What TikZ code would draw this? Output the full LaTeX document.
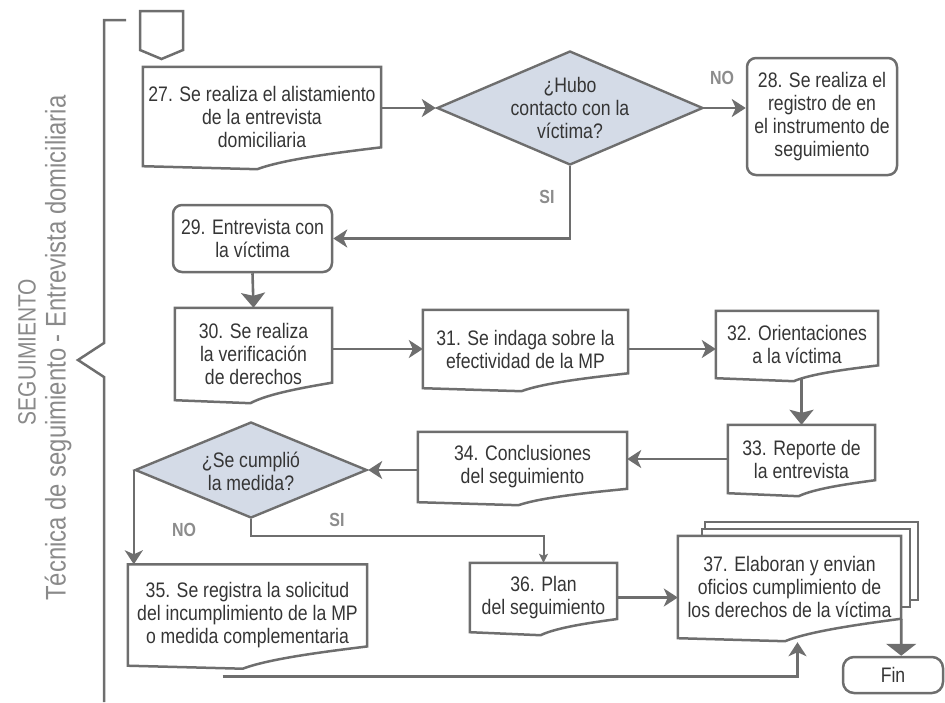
\documentclass[tikz,border=0pt]{standalone}
\usepackage{fontspec}
\setmainfont[FakeStretch=0.84]{Liberation Sans}
\usepackage{tikz}
\usetikzlibrary{arrows.meta,shapes.geometric,calc}

\definecolor{linegray}{HTML}{6E6E6E}
\definecolor{txtgray}{HTML}{353535}
\definecolor{lblgray}{HTML}{8C8C8C}
\definecolor{sidegray}{HTML}{8A8A8A}
\definecolor{diafill}{HTML}{D4DBE7}
\newcommand{\boxfont}{\fontsize{21}{23}\selectfont}

\begin{document}
\begin{tikzpicture}[x=1pt, y=-1pt,
  every node/.style={text=txtgray, font=\boxfont, align=center},
  boxline/.style={draw=linegray, line width=2.5pt, line join=miter},
  doc/.style={rectangle, inner sep=2pt,
    append after command={\pgfextra{
      \draw[boxline] (\tikzlastnode.north west) -- (\tikzlastnode.north east)
        -- ($(\tikzlastnode.south east)!0.19!(\tikzlastnode.north east)$)
        .. controls ($(\tikzlastnode.south west)!0.8!(\tikzlastnode.south east)!0.14!(\tikzlastnode.north east)$)
        and ($(\tikzlastnode.south west)!0.56!(\tikzlastnode.south east)!0.07!(\tikzlastnode.north east)$)
        .. ($(\tikzlastnode.south west)!0.48!(\tikzlastnode.south east)+(0,3)$)
        -- (\tikzlastnode.south west) -- cycle;}}},
  roundbox/.style={rectangle, rounded corners=9pt, draw=linegray, line width=2.5pt, inner sep=2pt},
  decision/.style={diamond, draw=linegray, fill=diafill, line width=2.4pt,
    minimum width=266pt, minimum height=114pt, inner sep=0pt},
  yesno/.style={text=lblgray, font=\bfseries\fontsize{19}{19}\selectfont},
  side/.style={rotate=90, text=sidegray, font=\fontsize{28.4}{29}\selectfont},
  arr/.style={draw=linegray, line width=2.6pt, -{Stealth[length=14pt, width=18pt, inset=4pt]}},
  arrwide/.style={arr, -{Stealth[length=15pt, width=24pt, inset=3pt]}},
  arrsmall/.style={arr, line width=2pt, -{Stealth[length=9pt, width=9pt, inset=2pt]}},
  arrfin/.style={arr, -{Triangle[length=12pt, width=30pt]}}]
\useasboundingbox (0,0) rectangle (945,702);

% brace and side titles
\draw[boxline] (126,20) -- (104,20) -- (104,343) -- (78,360) -- (104,377) -- (104,702);
\node[side, font=\fontsize{25}{26}\selectfont] (seg) at (27,352) {SEGUIMIENTO};
\node[side] (tec) at (58,348) {Técnica de seguimiento - Entrevista domiciliaria};

% off-page connector
\draw[boxline] (140,11) -- (183,11) -- (183,50) -- (161.5,59) -- (140,50) -- cycle;

% first row
\node[doc, minimum width=238pt, minimum height=99pt] (b27) at (262,116.5) {27. Se realiza el alistamiento\\de la entrevista\\domiciliaria};
\node[decision] (d1) at (570,108) {};
\node (d1t) at (570,108) {¿Hubo\\contacto con la\\víctima?};
\node[roundbox, minimum width=150pt, minimum height=117pt] (b28) at (822,116.5) {28. Se realiza el\\registro de en\\el instrumento de\\seguimiento};
\node[yesno] (no1) at (722,78) {NO};
\node[yesno] (si1) at (547,197) {SI};

% interview
\node[roundbox, minimum width=159pt, minimum height=67pt] (b29) at (252.5,238.5) {29. Entrevista con\\la víctima};
\node[doc, minimum width=157pt, minimum height=92pt] (b30) at (253.5,354) {30. Se realiza\\la verificación\\de derechos};
\node[doc, minimum width=205pt, minimum height=78pt] (b31) at (525.5,349) {31. Se indaga sobre la\\efectividad de la MP};
\node[doc, minimum width=162pt, minimum height=67pt] (b32) at (797,344.5) {32. Orientaciones\\a la víctima};
\node[doc, minimum width=147pt, minimum height=68pt] (b33) at (801.5,459) {33. Reporte de\\la entrevista};
\node[doc, minimum width=209pt, minimum height=70pt] (b34) at (522.5,467) {34. Conclusiones\\del seguimiento};

% second decision
\node[decision, minimum width=232pt, minimum height=96pt] (d2) at (251,470) {};
\node (d2t) at (251,471) {¿Se cumplió\\la medida?};
\node[yesno] (no2) at (184,530) {NO};
\node[yesno] (si2) at (337,520) {SI};

% last row
\node[doc, minimum width=239pt, minimum height=101pt] (b35) at (247.5,615) {35. Se registra la solicitud\\del incumplimiento de la MP\\o medida complementaria};
\node[doc, minimum width=147pt, minimum height=69pt] (b36) at (543.5,597.5) {36. Plan\\del seguimiento};
\node[doc, minimum width=223pt, minimum height=102pt] (b37) at (789.5,587) {37. Elaboran y envian\\oficios cumplimiento de\\los derechos de la víctima};
\draw[boxline] ($(b37.north west)+(24,0)$) |- ($(b37.north east)+(9,-7)$) |- ($(b37.north east)+(0,71)$);
\draw[boxline] ($(b37.north west)+(27,-7)$) |- ($(b37.north east)+(17,-14)$) |- ($(b37.north east)+(9,64)$);
\node[roundbox, rounded corners=11pt, minimum width=100pt, minimum height=36pt] (fin) at (893,675) {Fin};

% connectors
\draw[arr] (b27.east |- d1.west) -- (d1.west);
\draw[arr] (d1.east) -- (d1.east -| b28.west);
\draw[arr] (d1.south) |- (b29.east);
\draw[arrwide] (b29.south) -- (b30.north);
\draw[arr] (b30.east |- b31.west) -- (b31.west);
\draw[arr] (b31.east) -- (b31.east -| b32.west);
\draw[arrwide] (b33.north |- b32.south) -- (b33.north);
\draw[arr] (b33.west) -- (b33.west -| b34.east);
\draw[arr] (b34.west |- d2.east) -- (d2.east);
\draw[arr] (d2.west) -- (d2.west |- b35.north);
\draw[arrsmall] (d2.south) -- ++(0,17) -| (b36.north);
\draw[arr] (b36.east) -- (b36.east -| b37.west);
\draw[arrfin] ($(b37.south east)!0.19!(b37.north east)$) -- (b37.south east |- fin.north);
\coordinate (loop) at ($(b35.south)+(-25,11)$);
\draw[arr] (loop) -| ($(b37.south)+(8,4)$);
\end{tikzpicture}
\end{document}
